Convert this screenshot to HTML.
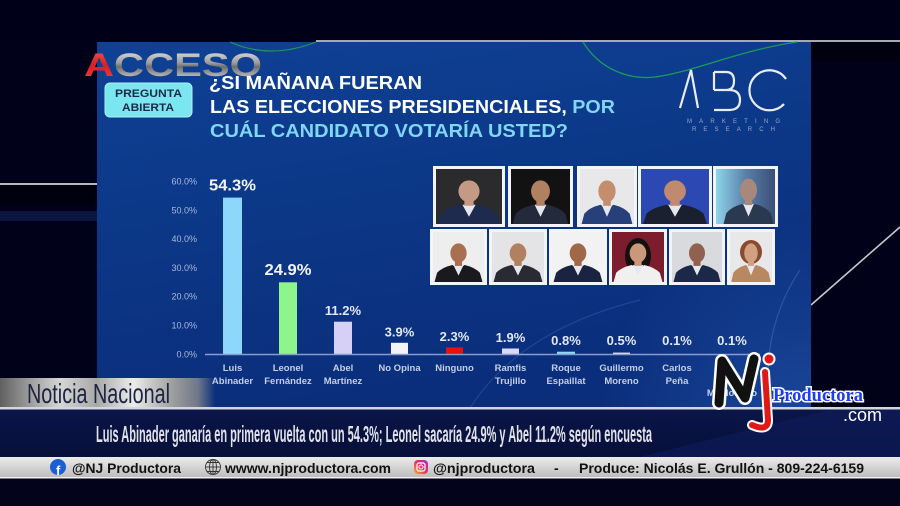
<!DOCTYPE html>
<html><head><meta charset="utf-8"><style>
html,body{margin:0;padding:0;background:#01011a;width:900px;height:506px;overflow:hidden;}
svg{display:block;}
text{font-family:"Liberation Sans",sans-serif;}
</style></head><body>
<svg width="900" height="506" viewBox="0 0 900 506" xmlns="http://www.w3.org/2000/svg" overflow="hidden">
<defs>
<linearGradient id="panel" x1="0" y1="0" x2="0.3" y2="1">
<stop offset="0" stop-color="#0f4195"/><stop offset="0.5" stop-color="#0c3787"/><stop offset="1" stop-color="#0a2e7b"/>
</linearGradient>
<radialGradient id="glow" gradientUnits="userSpaceOnUse" cx="800" cy="420" r="200">
<stop offset="0" stop-color="#2f64c0" stop-opacity="0.45"/><stop offset="1" stop-color="#2f64c0" stop-opacity="0"/>
</radialGradient>
<linearGradient id="silver" x1="0" y1="0" x2="0" y2="1">
<stop offset="0" stop-color="#f0f0f0"/><stop offset="0.45" stop-color="#9a9a9a"/><stop offset="0.55" stop-color="#6e6e6e"/><stop offset="1" stop-color="#e8e8e8"/>
</linearGradient>
<linearGradient id="red" x1="0" y1="0" x2="0" y2="1">
<stop offset="0" stop-color="#ff5a5a"/><stop offset="0.5" stop-color="#d42020"/><stop offset="1" stop-color="#ff4040"/>
</linearGradient>
<linearGradient id="nbar" x1="0" y1="0" x2="1" y2="0">
<stop offset="0" stop-color="#606060"/><stop offset="0.1" stop-color="#8c8c8c"/><stop offset="0.28" stop-color="#d6d6d6"/><stop offset="0.45" stop-color="#a8a8a8"/><stop offset="0.62" stop-color="#ececec"/><stop offset="0.8" stop-color="#a0a0a0"/><stop offset="0.92" stop-color="#8a8a8a" stop-opacity="0.8"/><stop offset="1" stop-color="#8a8a8a" stop-opacity="0"/>
</linearGradient>
<linearGradient id="gbar" x1="0" y1="0" x2="0" y2="1">
<stop offset="0" stop-color="#ececec"/><stop offset="1" stop-color="#bdbdbd"/>
</linearGradient>
<linearGradient id="band" x1="0" y1="0" x2="0" y2="1">
<stop offset="0" stop-color="#0a1548"/><stop offset="1" stop-color="#07103a"/>
</linearGradient>
<linearGradient id="ig" x1="0" y1="1" x2="1" y2="0">
<stop offset="0" stop-color="#f8b030"/><stop offset="0.5" stop-color="#e83060"/><stop offset="1" stop-color="#a030c0"/>
</linearGradient>
<linearGradient id="p5" x1="0" y1="0" x2="1" y2="0">
<stop offset="0" stop-color="#8fd4ea"/><stop offset="0.5" stop-color="#5a80a8"/><stop offset="1" stop-color="#3a4f78"/>
</linearGradient>
<symbol id="p" viewBox="0 0 100 100" preserveAspectRatio="none">
<path d="M3,100 L8,80 Q18,68 38,63 L50,72 L62,63 Q82,68 92,80 L97,100 Z" fill="currentColor"/>
<path d="M40,63 L50,86 L60,63 Z" fill="#e6e8f0"/>
<rect x="43" y="50" width="14" height="15"/>
<ellipse cx="50" cy="37" rx="16" ry="21"/>
</symbol>
</defs>

<rect x="0" y="0" width="900" height="506" fill="#01011a"/>
<rect x="0" y="0" width="900" height="41" fill="#000018"/>
<rect x="811" y="42" width="89" height="20" fill="#00000f"/>
<rect x="0" y="185" width="97" height="20" fill="#00000f"/>
<rect x="0" y="211" width="97" height="10" fill="#0c1440"/>
<line x1="0" y1="184" x2="97" y2="184" stroke="#b8b8c0" stroke-width="2"/>
<line x1="316" y1="41" x2="900" y2="41" stroke="#a8a8b0" stroke-width="2"/>
<line x1="811" y1="305" x2="900" y2="227" stroke="#c8c8cc" stroke-width="1.6"/>

<rect x="97" y="42" width="714" height="366" fill="url(#panel)"/>
<rect x="97" y="42" width="714" height="366" fill="url(#glow)"/>
<path d="M800,270 Q760,330 770,408" fill="none" stroke="#5a8ad8" stroke-opacity="0.35" stroke-width="1.2"/>
<path d="M470,408 Q520,330 640,300" fill="none" stroke="#5a8ad8" stroke-opacity="0.25" stroke-width="1.2"/>
<path d="M230,42 Q270,60 316,42" fill="none" stroke="#1a9a5a" stroke-width="1.2"/>
<path d="M583,42 C600,70 630,80 655,77 C690,73 740,50 797,42" fill="none" stroke="#1a9a5a" stroke-width="1.3"/>

<text x="84" y="76" font-size="32" font-weight="bold" textLength="178" lengthAdjust="spacingAndGlyphs" fill="url(#silver)"><tspan fill="url(#red)">A</tspan>CCESO</text>

<rect x="105" y="83" width="87" height="34" rx="5" fill="#7ce6f0" stroke="#a8f2f8" stroke-width="1"/>
<text x="115" y="97" font-size="11" font-weight="bold" fill="#1a2a48" textLength="67" lengthAdjust="spacingAndGlyphs">PREGUNTA</text>
<text x="122" y="111" font-size="11" font-weight="bold" fill="#1a2a48" textLength="52" lengthAdjust="spacingAndGlyphs">ABIERTA</text>

<text x="209" y="89" font-size="18" font-weight="bold" fill="#ffffff" textLength="213" lengthAdjust="spacingAndGlyphs">¿SI MAÑANA FUERAN</text>
<text x="210" y="113" font-size="18" font-weight="bold" fill="#ffffff" textLength="405" lengthAdjust="spacingAndGlyphs">LAS ELECCIONES PRESIDENCIALES, <tspan fill="#80d6f4">POR</tspan></text>
<text x="210" y="137" font-size="18" font-weight="bold" fill="#80d6f4" textLength="358" lengthAdjust="spacingAndGlyphs">CUÁL CANDIDATO VOTARÍA USTED?</text>

<g fill="none" stroke="#e8ecf4" stroke-width="2.2">
<path d="M680,108 L691,70 L698,108"/>
<path d="M714,72 L714,90 M714,72 L726,72 Q734,72 734,81 Q734,90 726,90 L714,90 M714,90 L729,90 Q740,90 740,100 Q740,110 729,110 L714,110"/>
<path d="M786,79 A20,20 0 1 0 784,104"/>
</g>
<text x="687" y="123" font-size="6" fill="#9aa8c8" textLength="93" lengthAdjust="spacing">MARKETING</text>
<text x="692" y="131" font-size="6" fill="#9aa8c8" textLength="83" lengthAdjust="spacing">RESEARCH</text>

<g font-size="9" fill="#aab8da" text-anchor="end">
<text x="197" y="184.5">60.0%</text>
<text x="197" y="213.3">50.0%</text>
<text x="197" y="242.1">40.0%</text>
<text x="197" y="270.9">30.0%</text>
<text x="197" y="299.7">20.0%</text>
<text x="197" y="328.5">10.0%</text>
<text x="197" y="357.3">0.0%</text>
</g>

<rect x="223" y="197.6" width="19" height="156.4" fill="#8dd8fa"/>
<rect x="279" y="282.3" width="18" height="71.7" fill="#8ef58c"/>
<rect x="334" y="321.7" width="18" height="32.3" fill="#d6d0f7"/>
<rect x="391" y="342.8" width="17" height="11.2" fill="#f4f4f8"/>
<rect x="446" y="347.4" width="17" height="6.6" fill="#e8100f"/>
<rect x="502" y="348.5" width="17" height="5.5" fill="#dcd8f8"/>
<rect x="557" y="351.7" width="18" height="2.3" fill="#8fd8f8"/>
<rect x="613" y="352.6" width="17" height="1.4" fill="#e8eaf2"/>
<line x1="205" y1="354.5" x2="760" y2="354.5" stroke="#8a9ccc" stroke-width="1.5"/>

<g font-weight="bold" text-anchor="middle" fill="#f2f5ff">
<text x="232.5" y="190.5" font-size="16" textLength="47" lengthAdjust="spacingAndGlyphs">54.3%</text>
<text x="288" y="275" font-size="16" textLength="47" lengthAdjust="spacingAndGlyphs">24.9%</text>
<g font-size="13" fill="#e2e8f8">
<text x="343" y="315">11.2%</text>
<text x="399.5" y="336.5">3.9%</text>
<text x="454.5" y="341">2.3%</text>
<text x="510.5" y="342">1.9%</text>
<text x="566" y="345">0.8%</text>
<text x="621.5" y="345">0.5%</text>
<text x="677" y="345">0.1%</text>
<text x="732" y="345">0.1%</text>
</g>
</g>

<g font-size="9.5" font-weight="bold" text-anchor="middle" fill="#c4cee8">
<text x="232.5" y="371">Luis</text><text x="232.5" y="384">Abinader</text>
<text x="288" y="371">Leonel</text><text x="288" y="384">Fernández</text>
<text x="343" y="371">Abel</text><text x="343" y="384">Martínez</text>
<text x="399.5" y="371">No Opina</text>
<text x="454.5" y="371">Ninguno</text>
<text x="510.5" y="371">Ramfis</text><text x="510.5" y="384">Trujillo</text>
<text x="566" y="371">Roque</text><text x="566" y="384">Espaillat</text>
<text x="621.5" y="371">Guillermo</text><text x="621.5" y="384">Moreno</text>
<text x="677" y="371">Carlos</text><text x="677" y="384">Peña</text>
<text x="732" y="396">Maldonado</text>
</g>

<g>
<rect x="433" y="166" width="72" height="61" fill="#f2f4f8"/>
<rect x="436" y="169" width="66" height="55" fill="#2b2a2c"/>
<use href="#p" x="436" y="172" width="66" height="52" fill="#c49a84" style="color:#1e2a4e"/>
<rect x="508" y="166" width="65" height="61" fill="#f2f4f8"/>
<rect x="511" y="169" width="59" height="55" fill="#121212"/>
<use href="#p" x="511" y="172" width="59" height="52" fill="#b08060" style="color:#222a3c"/>
<rect x="577" y="166" width="60" height="61" fill="#f2f4f8"/>
<rect x="580" y="169" width="54" height="55" fill="#e8e8ea"/>
<use href="#p" x="580" y="172" width="54" height="52" fill="#c48e6c" style="color:#27407a"/>
<rect x="638" y="166" width="74" height="61" fill="#f2f4f8"/>
<rect x="641" y="169" width="68" height="55" fill="#2c48b2"/>
<use href="#p" x="641" y="172" width="68" height="52" fill="#c08a70" style="color:#1a2030"/>
<rect x="713" y="166" width="65" height="61" fill="#f2f4f8"/>
<rect x="716" y="169" width="59" height="55" fill="url(#p5)"/>
<use href="#p" x="722" y="170" width="53" height="54" fill="#a8887a" style="color:#2a3850"/>
</g>

<g>
<rect x="430" y="229" width="57" height="56" fill="#f2f4f8"/>
<rect x="433" y="232" width="51" height="50" fill="#eeeeee"/>
<use href="#p" x="433" y="236" width="51" height="46" fill="#a87050" style="color:#1a1a1e"/>
<rect x="489" y="229" width="58" height="56" fill="#f2f4f8"/>
<rect x="492" y="232" width="52" height="50" fill="#e4e4e6"/>
<use href="#p" x="492" y="236" width="52" height="46" fill="#b08060" style="color:#2a2a32"/>
<rect x="549" y="229" width="58" height="56" fill="#f2f4f8"/>
<rect x="552" y="232" width="52" height="50" fill="#f2f2f2"/>
<use href="#p" x="552" y="236" width="52" height="46" fill="#a06848" style="color:#1a2442"/>
<rect x="609" y="229" width="58" height="56" fill="#f2f4f8"/>
<rect x="612" y="232" width="52" height="50" fill="#7c1c2c"/>
<ellipse cx="638" cy="256" rx="13" ry="18" fill="#151010"/>
<use href="#p" x="612" y="236" width="52" height="46" fill="#c89878" style="color:#f0f0f0"/>
<rect x="669" y="229" width="56" height="56" fill="#f2f4f8"/>
<rect x="672" y="232" width="50" height="50" fill="#d8dade"/>
<use href="#p" x="672" y="236" width="50" height="46" fill="#906050" style="color:#1c2848"/>
<rect x="727" y="229" width="48" height="56" fill="#f2f4f8"/>
<rect x="730" y="232" width="42" height="50" fill="#e8e8e8"/>
<ellipse cx="751" cy="252" rx="11" ry="12" fill="#8a4a30"/>
<use href="#p" x="730" y="236" width="42" height="46" fill="#d0a080" style="color:#b88860"/>
</g>

<rect x="0" y="378" width="215" height="29" fill="url(#nbar)"/>
<text x="27" y="403" font-size="28" fill="#1e2440" textLength="143" lengthAdjust="spacingAndGlyphs">Noticia Nacional</text>

<rect x="0" y="407" width="900" height="2.5" fill="#d4d6dc"/>
<rect x="0" y="409.5" width="900" height="47.5" fill="url(#band)"/>
<polygon points="640,457 830,409.5 900,409.5 900,457" fill="#0f1d5c" opacity="0.55"/>
<text x="96" y="442" font-size="23" font-weight="bold" fill="#e2e2e8" textLength="556" lengthAdjust="spacingAndGlyphs">Luis Abinader ganaría en primera vuelta con un 54.3%; Leonel sacaría 24.9% y Abel 11.2% según encuesta</text>

<rect x="0" y="457" width="900" height="20" fill="url(#gbar)"/>
<rect x="0" y="477" width="900" height="1.5" fill="#f0f0f0"/>
<circle cx="58" cy="467" r="8" fill="#1b5fd8"/>
<text x="56" y="475" font-size="13" font-weight="bold" fill="#ffffff">f</text>
<text x="72" y="473" font-size="14" font-weight="bold" fill="#111" textLength="109" lengthAdjust="spacingAndGlyphs">@NJ Productora</text>
<g fill="none" stroke="#333" stroke-width="0.9">
<circle cx="213" cy="467" r="7.5"/><ellipse cx="213" cy="467" rx="3.5" ry="7.5"/>
<line x1="205.5" y1="467" x2="220.5" y2="467"/><line x1="213" y1="459.5" x2="213" y2="474.5"/>
<path d="M207,462.5 H219 M207,471.5 H219"/>
</g>
<text x="225" y="473" font-size="14" font-weight="bold" fill="#111" textLength="166" lengthAdjust="spacingAndGlyphs">wwww.njproductora.com</text>
<rect x="414" y="460" width="14" height="14" rx="4" fill="url(#ig)"/>
<rect x="417" y="463" width="8" height="8" rx="2" fill="none" stroke="#fff" stroke-width="1.2"/>
<circle cx="421" cy="467" r="2" fill="none" stroke="#fff" stroke-width="1"/>
<text x="433" y="473" font-size="14" font-weight="bold" fill="#111" textLength="102" lengthAdjust="spacingAndGlyphs">@njproductora</text>
<text x="554" y="473" font-size="14" font-weight="bold" fill="#111">-</text>
<text x="579" y="473" font-size="14" font-weight="bold" fill="#111" textLength="285" lengthAdjust="spacingAndGlyphs">Produce: Nicolás E. Grullón - 809-224-6159</text>

<g fill="none" stroke-linecap="round" stroke-linejoin="round">
<polyline points="719,403 722,361 745,398 754,359" stroke="#ffffff" stroke-width="14"/>
<polyline points="719,403 722,361 745,398 754,359" stroke="#111" stroke-width="9"/>
<path d="M765,372 L768,420 Q768,432 752,425" stroke="#ffffff" stroke-width="10"/>
<path d="M765,372 L768,420 Q768,432 752,425" stroke="#e01818" stroke-width="6"/>
</g>
<circle cx="769" cy="359" r="6.5" fill="#ffffff"/>
<circle cx="769" cy="359" r="4.5" fill="#e01818"/>
<text x="773" y="401" font-size="19" font-weight="bold" fill="#1f3cf0" stroke="#ffffff" stroke-width="3" paint-order="stroke" textLength="90" lengthAdjust="spacingAndGlyphs" style="font-family:'Liberation Serif',serif">Productora</text>
<text x="843" y="421" font-size="18" fill="#ffffff" textLength="39" lengthAdjust="spacingAndGlyphs">.com</text>

<rect x="0" y="478.5" width="900" height="27.5" fill="#03041c"/>
</svg>
</body></html>
